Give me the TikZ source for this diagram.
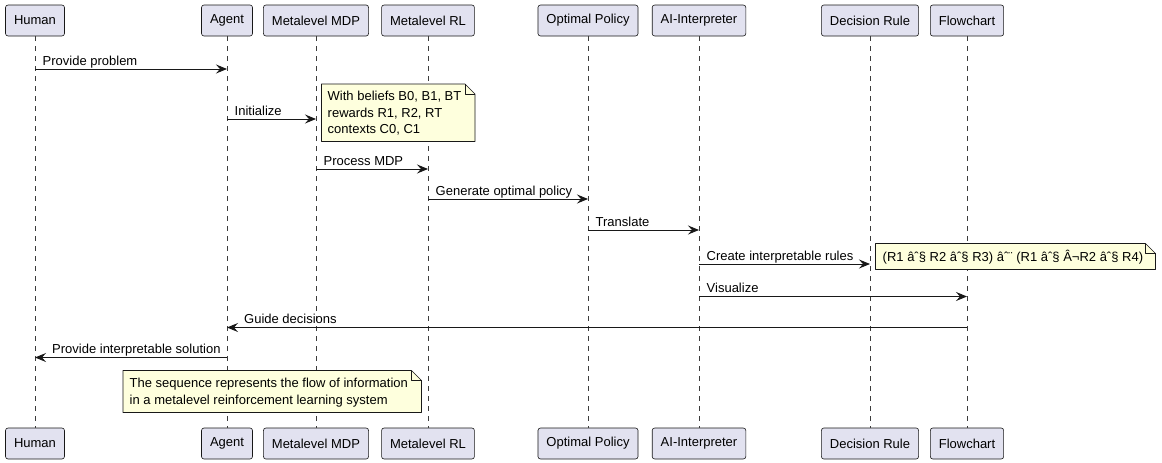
\documentclass[tikz,border=0pt]{standalone}
\usepackage{fontspec}
\setmainfont{Liberation Sans}
\usetikzlibrary{arrows.meta}

\definecolor{umlline}{HTML}{181818}
\definecolor{umlhead}{HTML}{E2E2F0}
\definecolor{umlnote}{HTML}{FEFFDD}

\tikzset{
	actor/.style={draw=umlline, fill=umlhead, line width=0.6pt, rounded corners=2.5pt,
		minimum height=31pt, inner xsep=8.5pt, font=\fontsize{13}{15}\selectfont},
	lifeline/.style={draw=umlline!85, line width=0.5pt, dash pattern=on 5pt off 5pt},
	msg/.style={draw=umlline, line width=0.9pt, -{Stealth[length=11pt,width=9pt,inset=4pt]}},
	msgtext/.style={anchor=base west, inner sep=0pt, font=\fontsize{13}{15}\selectfont},
	notebox/.style={draw=umlline, fill=umlnote, line width=0.6pt, line join=round},
	notetext/.style={anchor=north west, inner sep=0pt, align=left, font=\fontsize{13}{16.5}\selectfont}
}

% note with a folded corner: x1, y1, x2, y2
\newcommand\foldnote[4]{%
	\draw[notebox] (#1,#2) -- (#3-10,#2) -- (#3,#2+10) -- (#3,#4) -- (#1,#4) -- cycle;
	\draw[notebox, fill=none] (#3-10,#2) -- (#3-10,#2+10) -- (#3,#2+10);
}

\begin{document}
\begin{tikzpicture}[x=1pt, y=-1pt]
	\fill[white] (0,0) rectangle (1162,463);
	\useasboundingbox (0,0) rectangle (1162,463);

	% Participants and lifelines
	\foreach \id/\x/\txt in {hum/35/Human, agt/227/Agent, mdp/316/Metalevel MDP,
			rl/428/Metalevel RL, opt/588/Optimal Policy, ai/699/AI-Interpreter,
			dr/870/Decision Rule, fc/967/Flowchart} {
		\node[actor] (\id-top) at (\x,20.5) {\txt};
		\node[actor] (\id-bot) at (\x,443.5) {\txt};
		\draw[lifeline] (\id-top) -- (\id-bot);
	}

	% Messages
	\draw[msg] (hum-top |- 0,69) -- (agt-top |- 0,69);
	\node[msgtext] (m1) at (42.5,65) {Provide problem};
	\draw[msg] (agt-top |- 0,119) -- (mdp-top |- 0,119);
	\node[msgtext] (m2) at (234.5,115) {Initialize};
	\draw[msg] (mdp-top |- 0,169) -- (rl-top |- 0,169);
	\node[msgtext] (m3) at (323.5,165) {Process MDP};
	\draw[msg] (rl-top |- 0,199) -- (opt-top |- 0,199);
	\node[msgtext] (m4) at (435.5,195) {Generate optimal policy};
	\draw[msg] (opt-top |- 0,230) -- (ai-top |- 0,230);
	\node[msgtext] (m5) at (595.5,226) {Translate};
	\draw[msg] (ai-top |- 0,264) -- (dr-top |- 0,264);
	\node[msgtext] (m6) at (706.5,260) {Create interpretable rules};
	\draw[msg] (ai-top |- 0,296.5) -- (fc-top |- 0,296.5);
	\node[msgtext] (m7) at (706.5,292.5) {Visualize};
	\draw[msg] (fc-top |- 0,327.5) -- (agt-top |- 0,327.5);
	\node[msgtext] (m8) at (244,323.5) {Guide decisions};
	\draw[msg] (agt-top |- 0,357.5) -- (hum-top |- 0,357.5);
	\node[msgtext] (m9) at (52,353.5) {Provide interpretable solution};

	% Notes
	\foldnote{321.5}{84}{475}{141.5}
	\node[notetext] (n1) at (327.5,91) {With beliefs B0, B1, BT\\rewards R1, R2, RT\\contexts C0, C1};
	\foldnote{875.5}{243.5}{1155.5}{269.5}
	\node[notetext] (n2) at (882.5,250) {(R1 âˆ§ R2 âˆ§ R3) âˆ¨ (R1 âˆ§ Â¬R2 âˆ§ R4)};
	\foldnote{123}{370.5}{421.5}{412.5}
	\node[notetext] (n3) at (129.5,378) {The sequence represents the flow of information\\in a metalevel reinforcement learning system};
\end{tikzpicture}
\end{document}
